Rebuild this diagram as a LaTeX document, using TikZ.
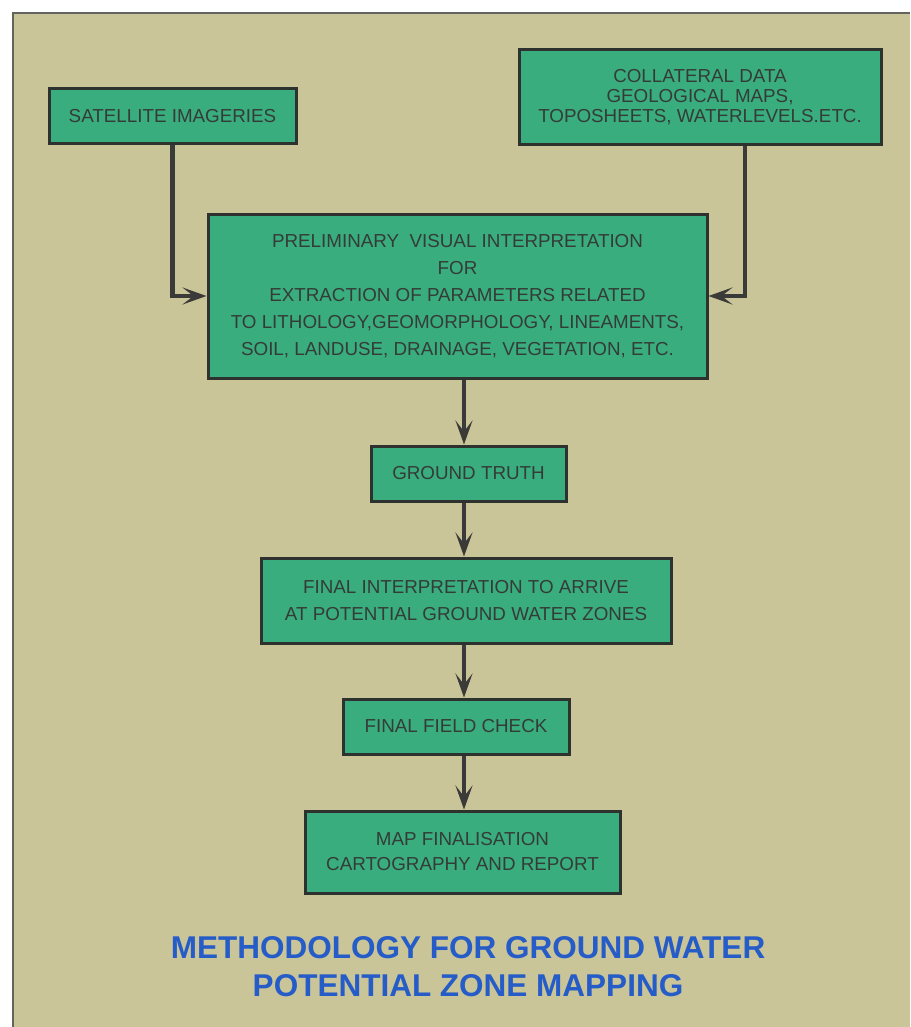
\documentclass[tikz,border=0pt]{standalone}
\usepackage{fontspec}
\setmainfont{Liberation Sans}
\usetikzlibrary{arrows.meta}
\definecolor{khaki}{RGB}{201,197,152}
\definecolor{boxgreen}{RGB}{58,173,127}
\definecolor{boxline}{RGB}{45,50,46}
\definecolor{txtgray}{RGB}{52,60,55}
\definecolor{arrgray}{RGB}{58,58,56}
\definecolor{framegray}{RGB}{100,100,95}
\definecolor{titleblue}{RGB}{38,92,200}
\tikzset{
  stepbox/.style={draw=boxline, line width=3pt, fill=boxgreen, rectangle,
    inner sep=0pt, align=center, text=txtgray,
    font=\fontsize{18.8pt}{27pt}\selectfont},
  flowarrow/.style={draw=arrgray, line width=4.5pt,
    -{Stealth[length=24pt,width=17pt,inset=11pt]}},
  titletext/.style={align=center, text=titleblue,
    font=\fontsize{31.5pt}{38pt}\selectfont\bfseries}
}
\begin{document}
\begin{tikzpicture}[x=1pt,y=-1pt]
\useasboundingbox (0,0) rectangle (910,1027);
\fill[white] (0,0) rectangle (910,1027);
\fill[khaki] (13,13) rectangle (910,1027);
\draw[framegray, line width=2pt] (13,1027) -- (13,13) -- (910,13);

\node[stepbox, minimum width=247pt, minimum height=55pt] (sat) at (172.5,116.5) {SATELLITE IMAGERIES};
\node[stepbox, minimum width=362pt, minimum height=95pt,
      font=\fontsize{18.8pt}{20pt}\selectfont] (coll) at (700,97.5)
  {COLLATERAL DATA\\GEOLOGICAL MAPS,\\TOPOSHEETS, WATERLEVELS.ETC.};
\node[stepbox, minimum width=499pt, minimum height=164pt] (prelim) at (457.5,296)
  {PRELIMINARY\ \ VISUAL INTERPRETATION\\FOR\\EXTRACTION OF PARAMETERS RELATED\\TO LITHOLOGY,GEOMORPHOLOGY, LINEAMENTS,\\SOIL, LANDUSE, DRAINAGE, VEGETATION, ETC.};
\node[stepbox, minimum width=195pt, minimum height=55pt] (gt) at (468.5,473.5) {GROUND TRUTH};
\node[stepbox, minimum width=410pt, minimum height=85pt] (fi) at (466,600.5)
  {FINAL INTERPRETATION TO ARRIVE\\AT POTENTIAL GROUND WATER ZONES};
\node[stepbox, minimum width=226pt, minimum height=55pt] (ffc) at (456,726.5) {FINAL FIELD CHECK};
\node[stepbox, minimum width=315pt, minimum height=82pt,
      font=\fontsize{18.8pt}{25pt}\selectfont] (map) at (462.5,852)
  {MAP FINALISATION\\CARTOGRAPHY AND REPORT};

\node[titletext] (title) at (468,967)
  {METHODOLOGY FOR GROUND WATER\\POTENTIAL ZONE MAPPING};

\coordinate (ax) at (464,0);
\coordinate (cx) at (745,0);
\draw[flowarrow] (sat.south) |- (prelim.west);
\draw[flowarrow] (coll.south -| cx) |- (prelim.east);
\draw[flowarrow] (prelim.south -| ax) -- (gt.north -| ax);
\draw[flowarrow] (gt.south -| ax) -- (fi.north -| ax);
\draw[flowarrow] (fi.south -| ax) -- (ffc.north -| ax);
\draw[flowarrow] (ffc.south -| ax) -- (map.north -| ax);
\end{tikzpicture}
\end{document}
